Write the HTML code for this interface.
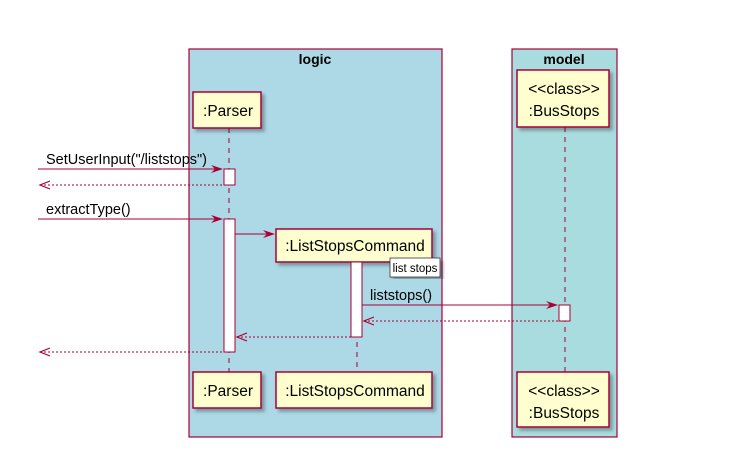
<!DOCTYPE html>
<html><head><meta charset="utf-8"><style>body{margin:0;background:#fff}</style></head><body>
<svg width="745" height="459" xmlns="http://www.w3.org/2000/svg" font-family="Liberation Sans, sans-serif">
<defs>
<filter id="sh"><feDropShadow dx="3" dy="3" stdDeviation="1.5" flood-color="#000" flood-opacity="0.3"/></filter>
</defs>
<rect x="189" y="49" width="253" height="388" fill="#ADD8E6" stroke="#A80036" stroke-width="1.2"/>
<text x="315" y="64" text-anchor="middle" font-size="14" font-weight="bold">logic</text>
<rect x="512" y="49" width="105" height="388" fill="#A9DCDF" stroke="#A80036" stroke-width="1.2"/>
<text x="564" y="64" text-anchor="middle" font-size="14" font-weight="bold">model</text>
<g stroke="#A80036" stroke-dasharray="5,5" stroke-width="1">
<line x1="229" y1="128" x2="229" y2="372"/><line x1="357" y1="262" x2="357" y2="372"/><line x1="565" y1="127" x2="565" y2="372"/>
</g>
<g fill="#FEFECE" stroke="#A80036" stroke-width="1.5" filter="url(#sh)">
<rect x="193" y="92" width="68" height="36"/><rect x="276" y="229" width="156" height="33"/>
<rect x="517" y="70" width="92" height="57"/><rect x="193" y="372" width="68" height="36"/>
<rect x="276" y="372" width="156" height="36"/><rect x="517" y="372" width="92" height="55"/>
</g>
<g font-size="15.5" text-anchor="middle" fill="#000">
<text x="228" y="116">:Parser</text><text x="355" y="251">:ListStopsCommand</text>
<text x="564" y="94">&lt;&lt;class&gt;&gt;</text><text x="564" y="116">:BusStops</text>
<text x="228" y="396">:Parser</text><text x="355" y="396">:ListStopsCommand</text>
<text x="564" y="396">&lt;&lt;class&gt;&gt;</text><text x="564" y="418">:BusStops</text>
</g>
<g fill="#fff" stroke="#A80036" stroke-width="1">
<rect x="224" y="169" width="11" height="16"/><rect x="224" y="219" width="11" height="133"/>
<rect x="351" y="262" width="11" height="75"/><rect x="559" y="305" width="11" height="16"/>
</g>
<rect x="390" y="258" width="50" height="19" fill="#fff" stroke="#333" stroke-width="0.8" filter="url(#sh)"/>
<text x="415" y="272" font-size="11.5" text-anchor="middle">list stops</text>
<g stroke="#A80036" stroke-width="1" fill="none">
<line x1="38" y1="169" x2="222" y2="169"/>
<line x1="40" y1="185" x2="224" y2="185" stroke-dasharray="2,2"/>
<line x1="38" y1="219" x2="222" y2="219"/>
<line x1="235" y1="234" x2="274" y2="234"/>
<line x1="362" y1="305" x2="557" y2="305"/>
<line x1="364" y1="321" x2="559" y2="321" stroke-dasharray="2,2"/>
<line x1="237" y1="337" x2="351" y2="337" stroke-dasharray="2,2"/>
<line x1="40" y1="352" x2="224" y2="352" stroke-dasharray="2,2"/>
</g>
<g fill="#A80036">
<polygon points="223,169 211,165 215,169 211,173"/>
<polygon points="223,219 211,215 215,219 211,223"/>
<polygon points="275,234 263,230 267,234 263,238"/>
<polygon points="558,305 546,301 550,305 546,309"/>
</g>
<g stroke="#A80036" stroke-width="1.2" fill="none">
<polyline points="50,181 40,185 50,189"/>
<polyline points="374,317 364,321 374,325"/>
<polyline points="247,333 237,337 247,341"/>
<polyline points="50,348 40,352 50,356"/>
</g>
<g font-size="14.5" fill="#000">
<text x="46" y="164">SetUserInput("/liststops")</text>
<text x="46" y="214">extractType()</text>
<text x="370" y="300">liststops()</text>
</g>
</svg>
</body></html>
